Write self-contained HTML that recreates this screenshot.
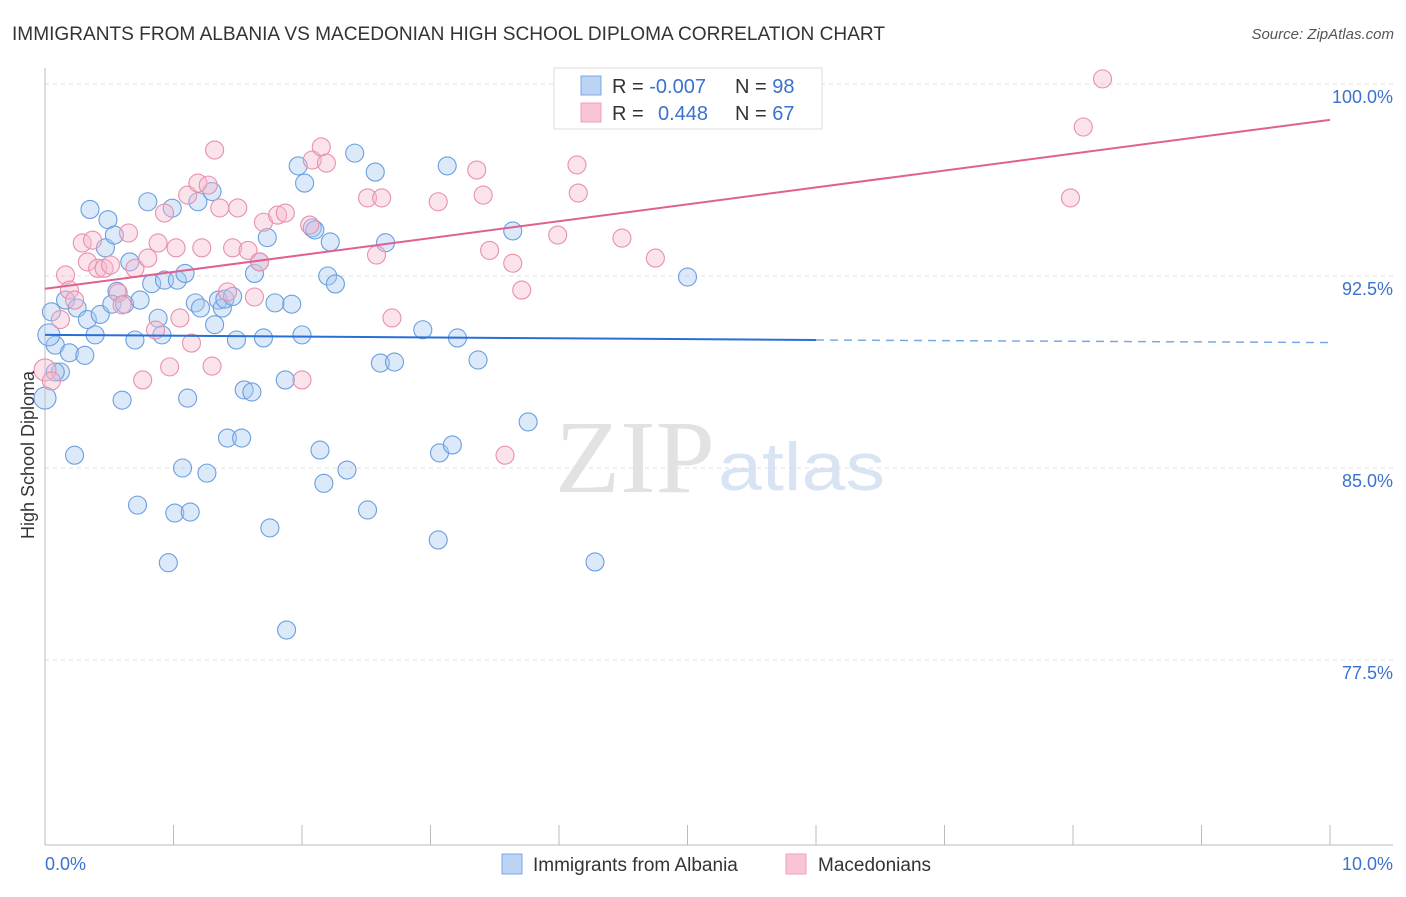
<!DOCTYPE html>
<html><head><meta charset="utf-8"><style>
body{margin:0;background:#fff;font-family:"Liberation Sans",sans-serif}
svg text{font-family:"Liberation Sans",sans-serif}
</style></head><body>
<svg id="chart" width="1406" height="892">
<text x="12" y="40" font-size="19" fill="#333" textLength="873" lengthAdjust="spacingAndGlyphs">IMMIGRANTS FROM ALBANIA VS MACEDONIAN HIGH SCHOOL DIPLOMA CORRELATION CHART</text>
<text x="1394" y="39" font-size="15" fill="#555" text-anchor="end" font-style="italic">Source: ZipAtlas.com</text>
<text x="715" y="492" font-size="104" fill="#e2e2e2" text-anchor="end" style="font-family:'Liberation Serif',serif" textLength="160" lengthAdjust="spacingAndGlyphs">ZIP</text>
<text x="718" y="490" font-size="68" fill="#d8e4f4" textLength="167" lengthAdjust="spacingAndGlyphs">atlas</text>
<g id="grid"></g><g id="pts"></g><g id="lines"></g>
<text x="34" y="455" font-size="18" fill="#333" text-anchor="middle" transform="rotate(-90 34 455)">High School Diploma</text>
<g>
<rect x="554" y="68" width="268" height="61" fill="#fff" stroke="#ddd"/>
<rect x="581" y="76" width="20" height="19" fill="#bcd4f4" stroke="#7aa8e4"/>
<rect x="581" y="103" width="20" height="19" fill="#f9c4d4" stroke="#eea0ba"/>
<text x="612" y="93" font-size="20" fill="#333">R = <tspan fill="#3a72cc">-0.007</tspan></text>
<text x="735" y="93" font-size="20" fill="#333">N = <tspan fill="#3a72cc">98</tspan></text>
<text x="612" y="120" font-size="20" fill="#333">R = <tspan fill="#3a72cc" x="658">0.448</tspan></text>
<text x="735" y="120" font-size="20" fill="#333">N = <tspan fill="#3a72cc">67</tspan></text>
</g>
<g>
<rect x="502" y="854" width="20" height="20" fill="#bcd4f4" stroke="#7aa8e4"/>
<text x="533" y="871" font-size="19" fill="#333">Immigrants from Albania</text>
<rect x="786" y="854" width="20" height="20" fill="#f9c4d4" stroke="#eea0ba"/>
<text x="818" y="871" font-size="19" fill="#333">Macedonians</text>
</g>
<text x="45" y="870" font-size="18" fill="#3a72cc">0.0%</text>
<text x="1393" y="870" font-size="18" fill="#3a72cc" text-anchor="end">10.0%</text>
</svg>
<script>
const yTicks=[100,92.5,85,77.5];
const yTickLabels=["100.0%","92.5%","85.0%","77.5%"];
const xTicks=[0,1,2,3,4,5,6,7,8,9,10];
const blueX=[0.0,0.23,0.08,0.05,0.12,0.16,0.19,0.25,0.31,0.35,0.33,0.39,0.43,0.47,0.49,0.54,0.56,0.52,0.60,0.62,0.66,0.70,0.74,0.72,0.80,0.83,0.88,0.91,0.93,0.96,0.99,1.01,1.03,1.07,1.09,1.11,1.13,1.17,1.21,1.19,1.26,1.30,1.32,1.35,1.38,1.40,1.42,1.46,1.49,1.53,1.55,1.61,1.63,1.67,1.70,1.73,1.75,1.79,1.87,1.88,1.92,1.97,2.00,2.02,2.08,2.10,2.14,2.17,2.20,2.22,2.26,2.35,2.41,2.51,2.57,2.61,2.65,2.72,2.94,3.06,3.07,3.13,3.17,3.21,3.37,3.64,3.76,4.28,5.0,5.21,0.03,0.08];
const blueY=[87.73,85.5,89.8,91.1,88.75,91.56,89.5,91.25,89.4,95.1,90.8,90.2,91.0,93.6,94.7,94.1,91.9,91.4,87.65,91.4,93.05,90.0,91.56,83.55,95.4,92.2,90.85,90.2,92.34,81.3,95.15,83.24,92.34,85.0,92.6,87.73,83.28,91.45,91.25,95.4,84.8,95.8,90.6,91.56,91.25,91.6,86.17,91.7,90.0,86.17,88.05,87.97,92.6,93.05,90.08,94.0,82.66,91.45,88.44,78.67,91.4,96.8,90.2,96.13,94.38,94.3,85.7,84.4,92.5,93.83,92.19,84.92,97.3,83.36,96.56,89.1,93.8,89.14,90.4,82.19,85.59,96.8,85.9,90.08,89.22,94.26,86.8,81.33,92.46,100.2,90.2,88.75];
const pinkX=[0.0,0.05,0.12,0.16,0.19,0.23,0.29,0.33,0.37,0.41,0.46,0.51,0.57,0.60,0.65,0.70,0.76,0.80,0.86,0.88,0.93,0.97,1.02,1.05,1.11,1.14,1.19,1.22,1.27,1.30,1.32,1.36,1.42,1.46,1.50,1.58,1.63,1.67,1.70,1.81,1.87,2.0,2.06,2.08,2.15,2.19,2.51,2.58,2.62,2.70,3.06,3.36,3.41,3.46,3.58,3.64,3.71,3.99,4.14,4.15,4.49,4.75,7.98,8.08,8.23];
const pinkY=[88.83,88.4,90.8,92.54,91.95,91.56,93.79,93.05,93.9,92.8,92.8,92.93,91.84,91.37,94.18,92.8,88.44,93.2,90.39,93.79,94.96,88.95,93.6,90.86,95.66,89.88,96.13,93.6,96.05,88.98,97.42,95.16,91.88,93.6,95.16,93.5,91.68,93.05,94.6,94.88,94.96,88.44,94.49,97.03,97.54,96.91,95.55,93.32,95.55,90.86,95.4,96.64,95.66,93.5,85.5,93.0,91.95,94.1,96.84,95.74,93.98,93.2,95.55,98.32,100.2];
const blueTrend=[[0,90.2],[6,90.0],[10,89.9]];
const pinkTrend=[[0,92.0],[10,98.6]];
const NS="http://www.w3.org/2000/svg";
const X=v=>45+v*128.5, Y=v=>84+(100-v)*25.6;
function mk(t,a,p){const e=document.createElementNS(NS,t);for(const k in a)e.setAttribute(k,a[k]);p.appendChild(e);return e;}
const g=document.getElementById('grid');
yTicks.forEach((t,i)=>{
 const l=mk('line',{x1:45,x2:1393,y1:Y(t),y2:Y(t),stroke:'#ddd','stroke-dasharray':'4 4'},g);
 
 
 const tx=mk('text',{x:1393,y:Y(t)+19,'font-size':18,fill:'#3a72cc','text-anchor':'end'},g);
 tx.textContent=yTickLabels[i];
 
 
});
const ax=mk('line',{x1:45,x2:45,y1:68,y2:845,stroke:'#bbb'},g);


const bx=mk('line',{x1:45,x2:1393,y1:845,y2:845,stroke:'#bbb'},g);


xTicks.forEach(t=>{
 const l=mk('line',{x1:X(t),x2:X(t),y1:825,y2:845,stroke:'#bbb'},g);
 
 
});
const p=document.getElementById('pts');
function dots(xs,ys,fill,stroke,name){xs.forEach((x,i)=>{
 const c=mk('circle',{cx:X(x),cy:Y(ys[i]),r:(x<0.05?11:9),fill:fill,'fill-opacity':0.4,stroke:stroke,'stroke-width':1.1},p);
 
 
});}
dots(blueX,blueY,'#a8c8f0','#6a9fe0','albania-point');
dots(pinkX,pinkY,'#f6b8cc','#e890ad','macedonian-point');
const L=document.getElementById('lines');
const b1=mk('line',{x1:X(blueTrend[0][0]),y1:Y(blueTrend[0][1]),x2:X(blueTrend[1][0]),y2:Y(blueTrend[1][1]),stroke:'#2a6fd6','stroke-width':2},L);


const b2=mk('line',{x1:X(blueTrend[1][0]),y1:Y(blueTrend[1][1]),x2:X(blueTrend[2][0]),y2:Y(blueTrend[2][1]),stroke:'#7aa8e4','stroke-width':1.5,'stroke-dasharray':'8 6'},L);


const pl=mk('line',{x1:X(pinkTrend[0][0]),y1:Y(pinkTrend[0][1]),x2:X(pinkTrend[1][0]),y2:Y(pinkTrend[1][1]),stroke:'#e06090','stroke-width':2},L);


</script>
</body></html>
